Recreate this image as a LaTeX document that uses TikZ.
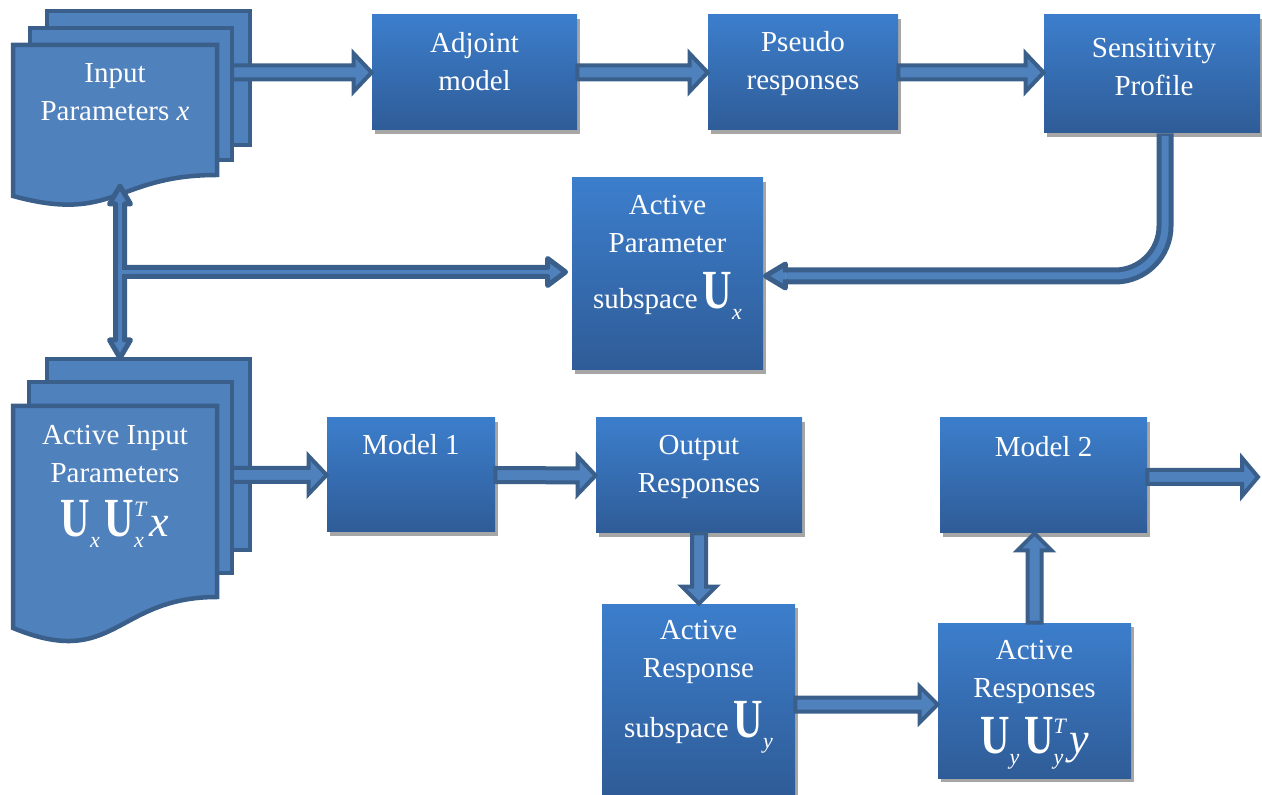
\documentclass[tikz,border=0pt]{standalone}
\usepackage{fontspec}
\setmainfont{Liberation Serif}
\usetikzlibrary{calc,shadows}
\definecolor{boxtop}{HTML}{3C7ECC}
\definecolor{boxbot}{HTML}{2F5C97}
\definecolor{arrfill}{HTML}{4F81BD}
\definecolor{arrline}{HTML}{3A5F8B}
\definecolor{shadowc}{HTML}{A6A6A6}
\newcommand\bigU{\scalebox{0.85}[1.15]{\fontsize{24}{24}\selectfont\bfseries U}}
\newcommand\smi[1]{{\fontsize{11}{11}\selectfont\itshape #1}}
\newcommand\Ub[1]{\bigU\raisebox{-5.5pt}{\smi{#1}}}
\newcommand\UbT[1]{\bigU\rlap{\raisebox{10pt}{\smi{T}}}\raisebox{-5.5pt}{\smi{#1}}\hspace{3pt}}
\newcommand\bigit[1]{{\fontsize{22}{22}\selectfont\itshape #1}}
\newcommand\barrow[6][]{%
  \coordinate (bA) at (#2);
  \coordinate (bT) at (#3);
  \coordinate (bB) at ($(bT)!#6!(bA)$);
  \draw[arr,#1] ($(bA)!#4!90:(bT)$) -- ($(bB)!#4!90:(bT)$) -- ($(bB)!#5!90:(bT)$) -- (bT)
     -- ($(bB)!#5!-90:(bT)$) -- ($(bB)!#4!-90:(bT)$) -- ($(bA)!#4!-90:(bT)$) -- cycle;}
\newcommand\dbarrow[6][]{%
  \coordinate (bA) at (#2);
  \coordinate (bT) at (#3);
  \coordinate (bB) at ($(bT)!#6!(bA)$);
  \coordinate (bC) at ($(bA)!#6!(bT)$);
  \draw[arr,#1] (bA) -- ($(bC)!#5!90:(bT)$) -- ($(bC)!#4!90:(bT)$) -- ($(bB)!#4!90:(bT)$)
     -- ($(bB)!#5!90:(bT)$) -- (bT) -- ($(bB)!#5!-90:(bT)$) -- ($(bB)!#4!-90:(bT)$)
     -- ($(bC)!#4!-90:(bT)$) -- ($(bC)!#5!-90:(bT)$) -- cycle;}
\tikzset{
  box/.style={rectangle, inner sep=0pt, draw=none, top color=boxtop, bottom color=boxbot,
    drop shadow={shadow xshift=1.5pt, shadow yshift=-2pt, opacity=1, fill=shadowc}},
  txt/.style={text=white, align=center, inner sep=0pt, font=\fontsize{14.5}{19}\selectfont},
  doc/.style={fill=arrfill, draw=arrline, line width=2.25pt, line join=miter},
  arr/.style={fill=arrfill, draw=arrline, line width=2pt, line join=miter},
  thinarr/.style={fill=arrfill, draw=arrline, line width=2.5pt, line join=round},
}
\begin{document}
\begin{tikzpicture}[x=0.5pt,y=-0.5pt]
\useasboundingbox (0,0) rectangle (1262,795);
% document stacks
\draw[doc] (47,11) rectangle (250,145);
\draw[doc] (30,28) rectangle (232,160);
\draw[doc] (13,45) -- (217,45) -- (217,175) .. controls (115,175) and (115,224) .. (13,196) -- cycle;
\draw[doc] (47,359) rectangle (250,550);
\draw[doc] (29,382) rectangle (232,573);
\draw[doc] (13,406) -- (217,406) -- (217,597) .. controls (115,597) and (115,670) .. (13,628) -- cycle;
\node[txt] (inp-t) at (115,92) {Input\\Parameters \textit{x}};
\node[txt] (ainp-t) at (115,486) {Active Input\\Parameters\\[8pt]\Ub{x}\,\UbT{x}\bigit{x}};
\coordinate (inpR) at (232,100);
\coordinate (inpB) at (120,186);
\coordinate (ainpT) at (120,358);
\coordinate (ainpR) at (232,475);
\coordinate (br) at (120,272);
\coordinate (outend) at (1258,477);
% boxes
\node[box, minimum width=102.5pt, minimum height=57.5pt] (adj) at (474.5,72.5) {};
\node[box, minimum width=95pt, minimum height=57.5pt] (pse) at (803,72.5) {};
\node[box, minimum width=108pt, minimum height=59pt] (sen) at (1152,74) {};
\node[box, minimum width=95.5pt, minimum height=96pt] (apx) at (667.5,274) {};
\node[box, minimum width=84pt, minimum height=57pt] (m1) at (411,475) {};
\node[box, minimum width=103pt, minimum height=57.5pt] (out) at (699,475.5) {};
\node[box, minimum width=103.5pt, minimum height=57.5pt] (m2) at (1043.5,475.5) {};
\node[box, minimum width=96.5pt, minimum height=95.5pt] (ars) at (698.5,699.5) {};
\node[box, minimum width=96.5pt, minimum height=77.5pt] (ar) at (1034.5,700.5) {};
% texts
\node[txt] (adj-t) at (474.5,62) {Adjoint\\model};
\node[txt] (pse-t) at (803,64) {Pseudo\\responses};
\node[txt] (sen-t) at (1154,67) {Sensitivity\\Profile};
\node[txt] (apx-t) at (667.5,257) {Active\\Parameter\\[9pt]subspace\,\Ub{x}};
\node[txt] (m1-t) at (411,445) {Model 1};
\node[txt] (out-t) at (699,467) {Output\\Responses};
\node[txt] (m2-t) at (1043.5,447) {Model 2};
\node[txt] (ars-t) at (698.5,687) {Active\\Response\\[8pt]subspace\,\Ub{y}};
\node[txt] (ar-t) at (1034.5,705) {Active\\Responses\\[6pt]\Ub{y}\,\UbT{y}\bigit{y}};
% straight block arrows
\barrow{inpR |- adj.west}{adj.west}{3.5pt}{9.5pt}{9pt}
\barrow{adj.east}{pse.west}{3.5pt}{9.5pt}{9pt}
\barrow{pse.east}{sen.west |- pse.east}{3.5pt}{9.5pt}{9pt}
\barrow{ainpR |- m1.west}{m1.west}{3.5pt}{9.5pt}{9pt}
\barrow{m1.east}{out.west}{3.5pt}{9.5pt}{9pt}
\barrow{out.south}{out.south |- ars.north}{3.5pt}{8.5pt}{8.5pt}
\barrow{$(ars.east)+(0,5)$}{$(ar.west)+(0,4)$}{3.5pt}{9pt}{9pt}
\barrow{ar.north}{ar.north |- m2.south}{3.5pt}{8.5pt}{8.5pt}
\barrow{m2.east |- outend}{outend}{3.5pt}{9.5pt}{8pt}
% bent arrow Sensitivity -> Active parameter subspace
\coordinate (bs) at ($(sen.south)+(13,0)$);
\coordinate (hb) at ($(apx.east)+(22,2)$);
\coordinate (ht) at ($(apx.east)+(2,2)$);
\draw[arrline, line width=8.5pt, rounded corners=25pt] (bs) -- (bs |- hb) -- (hb);
\draw[arrfill, line width=3.5pt, rounded corners=25pt] ($(bs)+(0,2.5)$) -- (bs |- hb) -- (hb);
\draw[fill=arrfill, draw=arrline, line width=2.5pt, line join=round]
  ($(hb)+(0,-3.5)$) -- ($(hb)+(0,-12)$) -- (ht) -- ($(hb)+(0,12)$) -- ($(hb)+(0,3.5)$);
% input parameters double arrow and branch
\barrow[thinarr]{br}{$(br -| apx.west)+(-6,0)$}{2.25pt}{6.75pt}{9pt}
\dbarrow[thinarr]{inpB}{ainpT}{2.25pt}{5.25pt}{9pt}
\fill[arrfill] (117.5,269.8) rectangle (129,274.2);
\end{tikzpicture}
\end{document}
